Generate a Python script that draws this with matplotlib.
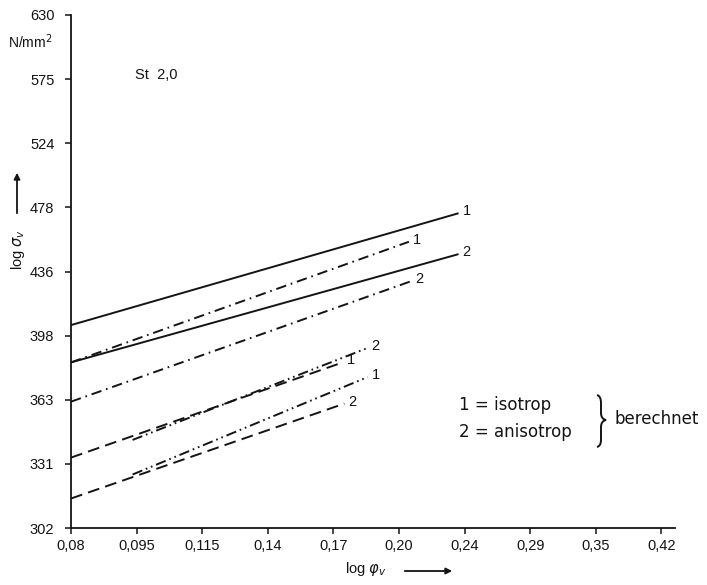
import numpy as np
import matplotlib
matplotlib.use("Agg")
import matplotlib.pyplot as plt
from matplotlib.path import Path
from matplotlib.patches import PathPatch

plt.rcParams["lines.scale_dashes"] = False

# axis tick values (drawn evenly spaced on the original, log-like scale)
phi_ticks = [0.08, 0.095, 0.115, 0.14, 0.17, 0.20, 0.24, 0.29, 0.35, 0.42]
phi_labels = ["0,08", "0,095", "0,115", "0,14", "0,17", "0,20", "0,24", "0,29", "0,35", "0,42"]
sigma_ticks = [302, 331, 363, 398, 436, 478, 524, 575, 630]

# lines: (phi start, phi end), (sigma start, sigma end)
solid_1_phi = [0.08, 0.236]
solid_1_sig = [404, 474]
solid_2_phi = [0.08, 0.236]
solid_2_sig = [383, 447]
dashdot_1_phi = [0.08, 0.2056]
dashdot_1_sig = [383, 455]
dashdot_2_phi = [0.08, 0.2068]
dashdot_2_sig = [362, 430]
dashed_1_phi = [0.08, 0.174]
dashed_1_sig = [334, 383]
dashdd_2_phi = [0.094, 0.185]
dashdd_2_sig = [342.6, 391]
dashdd_1_phi = [0.094, 0.185]
dashdd_1_sig = [326, 375]
dashed_2_phi = [0.08, 0.1747]
dashed_2_sig = [315, 361]


def piecewise_log(ticks):
    lt = np.log(np.asarray(ticks, float))
    idx = np.arange(len(lt), dtype=float)

    def fwd(v):
        lv = np.log(np.clip(np.asarray(v, float), 1e-9, None))
        out = np.interp(lv, lt, idx)
        out = np.where(lv < lt[0], (lv - lt[0]) / (lt[1] - lt[0]), out)
        out = np.where(lv > lt[-1], idx[-1] + (lv - lt[-1]) / (lt[-1] - lt[-2]), out)
        return out

    def inv(i):
        i = np.asarray(i, float)
        lv = np.interp(i, idx, lt)
        lv = np.where(i < 0, lt[0] + i * (lt[1] - lt[0]), lv)
        lv = np.where(i > idx[-1], lt[-1] + (i - idx[-1]) * (lt[-1] - lt[-2]), lv)
        return np.exp(lv)

    return fwd, inv


W, H = 707, 585
fig = plt.figure(figsize=(W / 100, H / 100), dpi=100)
ax = fig.add_axes([71 / W, (H - 528) / H, 603.5 / W, 513 / H])

xf, xi = piecewise_log(phi_ticks)
yf, yi = piecewise_log(sigma_ticks)
ax.set_xscale("function", functions=(xf, xi))
ax.set_yscale("function", functions=(yf, yi))
ax.set_xlim(0.08, float(xi(9.2)))
ax.set_ylim(302, 630)

ink = "#141414"
lw = 1.4
styles = {
    "solid": "-",
    "dashdot": (0, (7.5, 3.5, 1.2, 3.5)),
    "dashed": (0, (8.5, 4.5)),
    "dashdd": (0, (7.5, 2.8, 1.2, 2.8, 1.2, 2.8)),
}
lines = [
    (solid_1_phi, solid_1_sig, "solid", "1"),
    (solid_2_phi, solid_2_sig, "solid", "2"),
    (dashdot_1_phi, dashdot_1_sig, "dashdot", "1"),
    (dashdot_2_phi, dashdot_2_sig, "dashdot", "2"),
    (dashed_1_phi, dashed_1_sig, "dashed", "1"),
    (dashdd_2_phi, dashdd_2_sig, "dashdd", "2"),
    (dashdd_1_phi, dashdd_1_sig, "dashdd", "1"),
    (dashed_2_phi, dashed_2_sig, "dashed", "2"),
]
for xs, ys, st, lab in lines:
    ax.plot(xs, ys, color=ink, lw=lw, linestyle=styles[st], solid_capstyle="butt")
    ax.annotate(lab, xy=(xs[-1], ys[-1]), xytext=(3, 1.5), textcoords="offset points",
                ha="left", va="center", fontsize=10.5, family="Liberation Sans", color=ink)

ax.spines["top"].set_visible(False)
ax.spines["right"].set_visible(False)
for s in ("left", "bottom"):
    ax.spines[s].set_linewidth(1.3)
    ax.spines[s].set_color(ink)

ax.set_xticks(phi_ticks)
ax.set_xticklabels(phi_labels)
ax.set_yticks(sigma_ticks)
ax.set_yticklabels([str(v) for v in sigma_ticks])
ax.xaxis.set_minor_locator(matplotlib.ticker.NullLocator())
ax.yaxis.set_minor_locator(matplotlib.ticker.NullLocator())
ax.tick_params(axis="x", direction="out", length=4, width=1.1, pad=4, colors=ink)
ax.tick_params(axis="y", direction="out", length=4, width=1.1, pad=8, colors=ink)
for t in ax.get_xticklabels() + ax.get_yticklabels():
    t.set_family("Liberation Sans")
    t.set_fontsize(10.5)


def px(x, y):
    return x / W, 1 - y / H


fig.text(*px(8, 42), r"N/mm$^2$", fontsize=10, family="Liberation Sans", va="center", ha="left",
         color=ink)
fig.text(*px(135, 75), "St  2,0", fontsize=10.5, family="Liberation Sans", va="center", ha="left",
         color=ink)

# axis titles with arrows
fig.text(*px(18, 249), r"log $\sigma_v$", rotation=90, fontsize=10.5, family="Liberation Sans",
         ha="center", va="center", color=ink)
ax.annotate("", xy=px(17, 170), xytext=px(17, 216), xycoords="figure fraction",
            arrowprops=dict(arrowstyle="-|>", lw=1.3, color=ink, mutation_scale=9))
fig.text(*px(345, 569), r"log $\varphi_v$", fontsize=10.5, family="Liberation Sans",
         ha="left", va="center", color=ink)
ax.annotate("", xy=px(455, 571), xytext=px(402, 571), xycoords="figure fraction",
            arrowprops=dict(arrowstyle="-|>", lw=1.3, color=ink, mutation_scale=9))

# key
fig.text(*px(459, 405), "1 = isotrop", fontsize=12, va="center", ha="left", color=ink)
fig.text(*px(459, 432), "2 = anisotrop", fontsize=12, va="center", ha="left", color=ink)
fig.text(*px(614, 419), "berechnet", fontsize=12, va="center", ha="left", color=ink)
brace = [(597, 395), (601, 396), (601, 403), (601, 413), (601, 419), (606, 420),
         (601, 421), (601, 427), (601, 440), (601, 446), (597, 447)]
codes = [Path.MOVETO, Path.CURVE3, Path.CURVE3, Path.LINETO, Path.CURVE3, Path.CURVE3,
         Path.CURVE3, Path.CURVE3, Path.LINETO, Path.CURVE3, Path.CURVE3]
fig.patches.append(PathPatch(Path([px(*p) for p in brace], codes), transform=fig.transFigure,
                             fill=False, lw=1.4, color=ink))

fig.savefig("out.png", dpi=100)
